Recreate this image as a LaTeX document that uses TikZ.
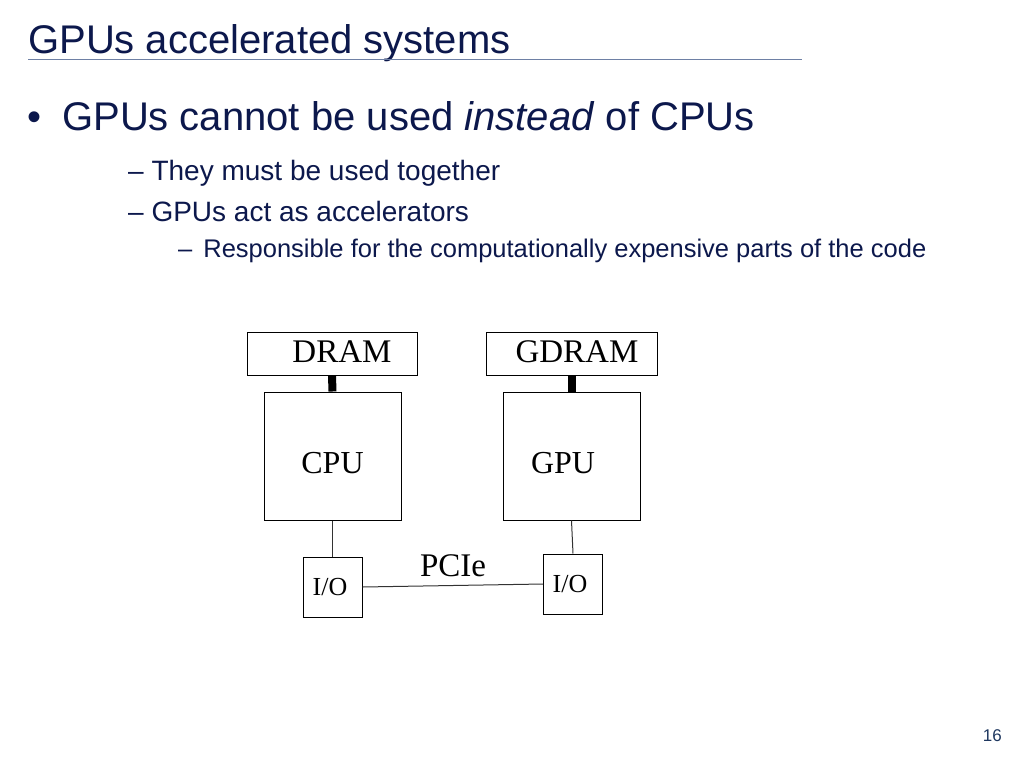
\documentclass[tikz,border=0pt]{standalone}
\usepackage{fontspec}
\setmainfont{Liberation Sans}
\newfontfamily\diagfont{Liberation Serif}
\definecolor{navy}{RGB}{12,24,76}
\definecolor{rulecol}{RGB}{110,128,165}
\definecolor{pagenum}{RGB}{30,55,95}
\begin{document}
\begin{tikzpicture}[x=1pt,y=-1pt,
  txt/.style={anchor=base west,inner sep=0pt,text=navy},
  box/.style={draw=black,line width=1pt,inner sep=0pt,font=\diagfont\fontsize{33}{36}\selectfont},
  iobox/.style={draw=black,line width=1pt,inner sep=0pt,minimum width=59pt,minimum height=60pt,font=\diagfont\fontsize{26}{30}\selectfont},
  thick link/.style={line width=8pt,draw=black},
  thin link/.style={line width=1pt,draw=black!80}]
\useasboundingbox[fill=white] (0,0) rectangle (1024,768);
% title
\node[txt,font=\fontsize{40}{48}\selectfont] (title) at (28,53) {GPUs accelerated systems};
\draw[rulecol,line width=0.8pt] (28,59.5) coordinate (rl) -- (802,59.5) coordinate (rr);
% bullets
\node[txt,font=\fontsize{40}{48}\selectfont] (b1dot) at (27,130) {•};
\node[txt,font=\fontsize{40}{48}\selectfont] (b1) at (62,130) {GPUs cannot be used \textit{instead} of CPUs};
\node[txt,font=\fontsize{28}{32}\selectfont] (b2) at (128,180) {– They must be used together};
\node[txt,font=\fontsize{28}{32}\selectfont] (b3) at (128,221) {– GPUs act as accelerators};
\node[txt,font=\fontsize{25.5}{30}\selectfont] (b4) at (178,257) {–\hspace{11pt}Responsible for the computationally expensive parts of the code};
% diagram
\node[box,minimum width=170pt,minimum height=43pt] (dram) at (332,353.5) {\hspace*{20pt}\raisebox{-9.2pt}[0pt][0pt]{DRAM}};
\node[box,minimum width=171pt,minimum height=43pt] (gdram) at (571.5,353.5) {\hspace*{11pt}\raisebox{-9.2pt}[0pt][0pt]{GDRAM}};
\node[box,minimum width=137pt,minimum height=128pt,font=\diagfont\fontsize{32}{36}\selectfont] (cpu) at (332.5,456) {\raisebox{-17.6pt}[0pt][0pt]{CPU}};
\node[box,minimum width=137pt,minimum height=128pt,font=\diagfont\fontsize{32}{36}\selectfont] (gpu) at (571.5,456) {\hspace*{-17pt}\raisebox{-17.6pt}[0pt][0pt]{GPU}};
\node[iobox] (iol) at (332.5,587) {\hspace*{-5pt}I/O};
\node[iobox] (ior) at (573,584) {\hspace*{-6pt}I/O};
\draw[thick link] (dram.south) -- (cpu.north);
\draw[thick link] (gdram.south) -- (gpu.north);
\draw[thin link] (cpu.south) -- (iol.north);
\draw[thin link] (gpu.south) -- (ior.north);
\draw[thin link] (iol.east) -- (ior.west);
\node[font=\diagfont\fontsize{33}{36}\selectfont,anchor=base,inner sep=0pt] (pcie) at (453,576) {PCIe};
% page number
\node[anchor=base east,inner sep=0pt,text=pagenum,font=\fontsize{17}{20}\selectfont] (pnum) at (1002,741) {16};
\end{tikzpicture}
\end{document}
